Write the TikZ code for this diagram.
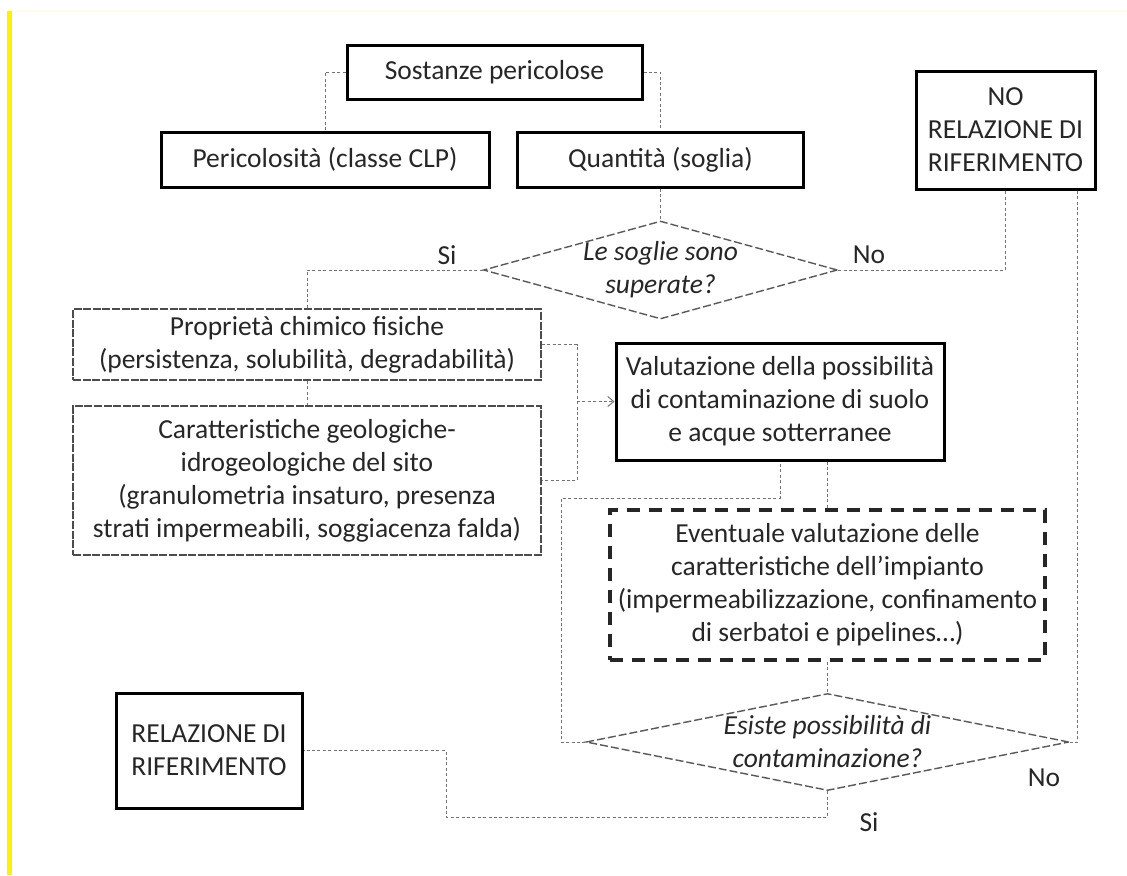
\documentclass[tikz,border=0pt]{standalone}
\usepackage{fontspec}
\setmainfont{Carlito}
\usetikzlibrary{positioning, arrows.meta, shapes.geometric}

\begin{document}
\begin{tikzpicture}
            [x=0.5pt, y=-0.5pt,
             every node/.style={font=\fontsize{13.75}{16.5}\selectfont, text=black!85, align=center, inner sep=0pt},
             box/.style={rectangle, draw=black, line width=1.5pt},
             softbox/.style={rectangle, draw=black!70, line width=0.9pt, dash pattern=on 4pt off 0.8pt},
             dashbox/.style={rectangle, draw=black!85, line width=1.8pt, dash pattern=on 6.5pt off 4.5pt},
             decision/.style={diamond, draw=black!65, line width=0.7pt, dash pattern=on 4pt off 1.5pt},
             question/.style={font=\fontsize{13.75}{16.5}\selectfont\itshape},
             link/.style={draw=black!55, line width=0.5pt, dash pattern=on 1.5pt off 1.2pt},
             >={Straight Barb[length=3pt, width=5pt]}]
            \useasboundingbox (0,0) rectangle (1127,875);
            \fill[yellow] (7,11) rectangle (12,875);
            \draw[yellow!12, line width=0.5pt] (12,11) -- (1127,11);

            \node[box, minimum width=147.5pt, minimum height=27pt] (sost) at (494.5,72) {Sostanze pericolose};
            \node[box, minimum width=164pt, minimum height=27.5pt] (peric) at (325,159.5) {Pericolosità (classe CLP)};
            \node[box, minimum width=143pt, minimum height=27.5pt] (quant) at (660.5,159.5) {Quantità (soglia)};
            \node[box, minimum width=89.5pt, minimum height=59pt] (norel) at (1005.5,130) {NO\\RELAZIONE DI\\RIFERIMENTO};
            \node[decision, minimum width=177pt, minimum height=49pt] (dia1) at (660.5,270) {};
            \node[question] (q1) at (dia1) {Le soglie sono\\superate?};
            \node[softbox, minimum width=234pt, minimum height=35.5pt] (prop) at (307,344.5) {Proprietà chimico fisiche\\(persistenza, solubilità, degradabilità)};
            \node[softbox, minimum width=234pt, minimum height=74.5pt] (caratt) at (307,480.5) {Caratteristiche geologiche-\\idrogeologiche del sito\\(granulometria insaturo, presenza\\strati impermeabili, soggiacenza falda)};
            \node[box, minimum width=164pt, minimum height=58.5pt] (valut) at (780,401.5) {Valutazione della possibilità\\di contaminazione di suolo\\e acque sotterranee};
            \node[dashbox, minimum width=217.5pt, minimum height=75pt] (event) at (827.5,585) {Eventuale valutazione delle\\caratteristiche dell’impianto\\(impermeabilizzazione, confinamento\\di serbatoi e pipelines…)};
            \node[decision, minimum width=241.5pt, minimum height=48.5pt] (dia2) at (827.5,742) {};
            \node[question] (q2) at (dia2) {Esiste possibilità di\\contaminazione?};
            \node[box, minimum width=93pt, minimum height=57.5pt] (rel) at (209,750.5) {RELAZIONE DI\\RIFERIMENTO};

            \node (si1) at (447,255) {Si};
            \node (no1) at (869,255) {No};
            \node (no2) at (1044,778) {No};
            \node (si2) at (869,822) {Si};

            \coordinate (join) at (577,401.5);
            \coordinate (back) at (561,498);
            \coordinate (down) at (446,817);

            \draw[link] (sost.west) -| (peric.north);
            \draw[link] (sost.east) -| (quant.north);
            \draw[link] (quant.south) -- (dia1.north);
            \draw[link] (dia1.west) -| (prop.north);
            \draw[link] (dia1.east) -| (norel.south);
            \draw[link] (prop.south) -- (caratt.north);
            \draw[link] (prop.east) -| (join) |- (caratt.east);
            \draw[link, ->] (join) -- (valut.west);
            \draw[link] (valut.south -| event.north) -- (event.north);
            \draw[link] (dia2.west) -| (back) -| (valut.south);
            \draw[link] (event.south) -- (dia2.north);
            \draw[link] (dia2.east) -| (norel.-40);
            \draw[link] (dia2.south) |- (down) |- (rel.east);
        \end{tikzpicture}
\end{document}
